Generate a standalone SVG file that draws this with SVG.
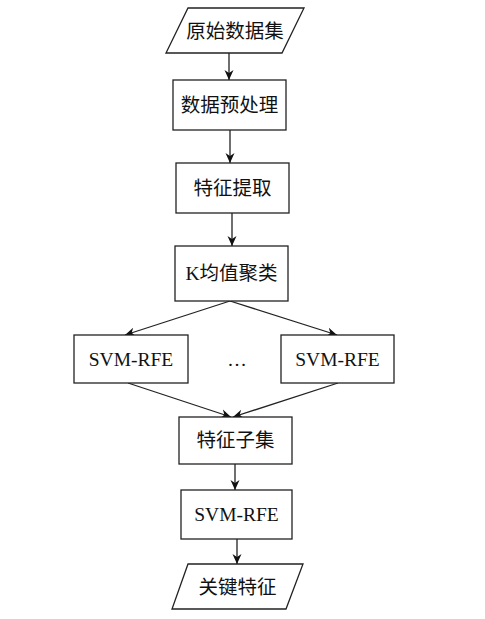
<svg xmlns="http://www.w3.org/2000/svg" width="485" height="619" viewBox="0 0 485 619">
<defs>
<marker id="ah" viewBox="0 0 10 10" refX="10" refY="5" markerWidth="10" markerHeight="10" markerUnits="userSpaceOnUse" orient="auto">
<path d="M0,0.5 L10,5 L0,9.5 L3,5 Z" fill="#111"/>
</marker>
</defs>
<style>
.s{fill:#fff;stroke:#222;stroke-width:1.3}
.t{font-family:"Liberation Serif","Noto Sans CJK SC",serif;font-size:19.5px;fill:#111;text-anchor:middle;dominant-baseline:central}
.c{fill:none;stroke:#222;stroke-width:1.3;marker-end:url(#ah)}
</style>
<rect width="485" height="619" fill="#fff"/>
<g id="connectors">
<line class="c" x1="229" y1="53" x2="229" y2="80"/>
<line class="c" x1="230" y1="130" x2="230" y2="163"/>
<line class="c" x1="232" y1="213" x2="232" y2="246"/>
<line class="c" x1="230" y1="301" x2="125" y2="335"/>
<line class="c" x1="230" y1="301" x2="337" y2="335"/>
<line class="c" x1="128" y1="383" x2="231" y2="417"/>
<line class="c" x1="338" y1="383" x2="233" y2="417"/>
<line class="c" x1="235" y1="464" x2="235" y2="490"/>
<line class="c" x1="237" y1="539" x2="237" y2="564"/>
</g>
<g id="n1"><polygon class="s" points="188,8 304,8 282,53 166,53"/><text class="t" x="235" y="31">原始数据集</text></g>
<g id="n2"><rect class="s" x="173" y="80" width="113" height="50"/><text class="t" x="229.5" y="105">数据预处理</text></g>
<g id="n3"><rect class="s" x="176" y="163" width="113" height="50"/><text class="t" x="232.5" y="188">特征提取</text></g>
<g id="n4"><rect class="s" x="175" y="246" width="113" height="55"/><text class="t" x="231.5" y="273.5">K均值聚类</text></g>
<g id="n5"><rect class="s" x="74" y="335" width="114" height="48"/><text class="t" x="131" y="359">SVM-RFE</text></g>
<g id="dots"><text class="t" x="237" y="359">…</text></g>
<g id="n6"><rect class="s" x="281" y="335" width="113" height="48"/><text class="t" x="337.5" y="359">SVM-RFE</text></g>
<g id="n7"><rect class="s" x="179" y="417" width="113" height="47"/><text class="t" x="235.5" y="440.5">特征子集</text></g>
<g id="n8"><rect class="s" x="181" y="490" width="111" height="49"/><text class="t" x="236.5" y="514.5">SVM-RFE</text></g>
<g id="n9"><polygon class="s" points="188,564 303,564 286,609 172,609"/><text class="t" x="237.5" y="587">关键特征</text></g>
</svg>
